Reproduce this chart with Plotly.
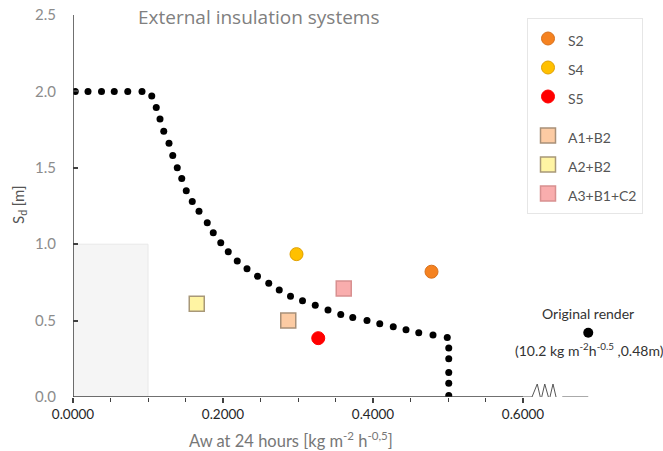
import plotly.graph_objects as go

# ---- data ----
curve_x = [0.003, 0.020, 0.038, 0.055, 0.073, 0.092, 0.105, 0.111, 0.116, 0.121,
           0.128, 0.133, 0.139, 0.145, 0.151, 0.159, 0.168, 0.179, 0.187, 0.197,
           0.207, 0.219, 0.232, 0.246, 0.261, 0.275, 0.290, 0.306, 0.323, 0.340,
           0.357, 0.373, 0.392, 0.409, 0.427, 0.444, 0.461, 0.480, 0.499, 0.501,
           0.501, 0.501, 0.501, 0.501]
curve_y = [2.00, 2.00, 2.00, 2.00, 2.00, 2.00, 1.97, 1.895, 1.82, 1.74,
           1.66, 1.58, 1.50, 1.43, 1.35, 1.28, 1.215, 1.14, 1.075, 1.01,
           0.95, 0.89, 0.84, 0.79, 0.745, 0.70, 0.66, 0.63, 0.60, 0.57,
           0.54, 0.52, 0.50, 0.48, 0.46, 0.44, 0.42, 0.405, 0.39, 0.32,
           0.25, 0.16, 0.09, 0.01]

circle_names = ["S2", "S4", "S5"]
circle_x = [0.478, 0.298, 0.327]
circle_y = [0.82, 0.935, 0.385]

square_names = ["A1+B2", "A2+B2", "A3+B1+C2"]
square_x = [0.287, 0.165, 0.361]
square_y = [0.50, 0.61, 0.71]

orig_x = [0.687]
orig_y = [0.42]

x_ticks = [0.0, 0.2, 0.4, 0.6]
x_minor = [0.05, 0.1, 0.15, 0.25, 0.3, 0.35, 0.45, 0.5, 0.55]
y_ticks = [0.0, 0.5, 1.0, 1.5, 2.0, 2.5]

# ---- styles ----
circle_fill = ["#F58220", "#FFC000", "#FF0000"]
circle_line = ["#D8701A", "#E0A000", "#FF0000"]
square_fill = ["#FCCBA3", "#FFF4A3", "#F9ADAD"]
square_line = ["#A89078", "#A89878", "#D89090"]

L, T, PW, PH = 73, 15, 585, 382

fig = go.Figure()

fig.add_trace(go.Scatter(x=curve_x, y=curve_y, mode="markers",
                         marker=dict(color="black", size=7),
                         showlegend=False, hoverinfo="skip"))

for n, x, y, f, l in zip(circle_names, circle_x, circle_y, circle_fill, circle_line):
    fig.add_trace(go.Scatter(x=[x], y=[y], mode="markers",
                             name=f"<span style='font-size:14px'>{n}</span>",
                             legendgroup="circles",
                             marker=dict(symbol="circle", size=13, color=f,
                                         line=dict(color=l, width=1))))

for n, x, y, f, l in zip(square_names, square_x, square_y, square_fill, square_line):
    fig.add_trace(go.Scatter(x=[x], y=[y], mode="markers",
                             name=f"<span style='font-size:14px'>{n}</span>",
                             legendgroup="squares",
                             marker=dict(symbol="square", size=15, color=f,
                                         line=dict(color=l, width=1.5))))

fig.add_trace(go.Scatter(x=orig_x, y=orig_y, mode="markers",
                         marker=dict(color="black", size=10),
                         showlegend=False, hoverinfo="skip"))

shapes = [
    dict(type="rect", xref="x", yref="y", x0=0, x1=0.1, y0=0, y1=1.0,
         fillcolor="#F5F5F5", line=dict(color="#E8E8E8", width=1), layer="below"),
    dict(type="line", xref="x", yref="y", x0=0, x1=0.6, y0=0, y1=0,
         line=dict(color="#404040", width=1.5)),
    dict(type="line", xref="x", yref="y", x0=0, x1=0, y0=0, y1=2.5,
         line=dict(color="#404040", width=1.5)),
    dict(type="path", xref="x", yref="y",
         path="M 0.6 0 L 0.612 0 L 0.619 0.085 L 0.624 -0.02 L 0.629 0.085 "
              "L 0.635 -0.02 L 0.640 0.085 L 0.645 -0.02 L 0.653 0 L 0.687 0",
         line=dict(color="#555555", width=1)),
]

annotations = [
    dict(text="External insulation systems", xref="paper", yref="paper",
         x=(258 - 73) / PW, y=(397 - 17) / PH, xanchor="center", yanchor="middle",
         showarrow=False, font=dict(family="Open Sans", size=19, color="#808080")),
    dict(text="S<sub>d</sub> [m]", xref="paper", yref="paper",
         x=-(73 - 19) / PW, y=(397 - 205) / PH, textangle=-90,
         xanchor="center", yanchor="middle", showarrow=False,
         font=dict(family="Lato", size=15, color="#555555")),
    dict(text="Aw at 24 hours [kg m<sup>-2</sup> h<sup>-0,5</sup>]", xref="paper", yref="paper",
         x=(291 - 73) / PW, y=-(440 - 397) / PH, xanchor="center", yanchor="middle",
         showarrow=False, font=dict(family="Lato", size=16.5, color="#777777")),
    dict(text="Original render", xref="x", yref="y", x=orig_x[0], y=orig_y[0],
         yshift=19, showarrow=False, font=dict(family="Lato", size=14, color="#333333")),
    dict(text="(10.2 kg m<sup>-2</sup>h<sup>-0.5</sup> ,0.48m)", xref="x", yref="y",
         x=orig_x[0], y=orig_y[0], xshift=1, yshift=-17, showarrow=False,
         font=dict(family="Lato", size=14, color="#333333")),
]

fig.update_layout(
    width=663, height=451,
    margin=dict(l=L, r=663 - L - PW, t=T, b=451 - T - PH, autoexpand=False),
    plot_bgcolor="white", paper_bgcolor="white",
    font=dict(family="Lato"),
    shapes=shapes, annotations=annotations,
    legend=dict(x=(527 - 73) / PW, y=(397 - 18) / PH, xanchor="left", yanchor="top",
                bordercolor="#E6E6E6", borderwidth=1, bgcolor="white",
                font=dict(family="Lato", size=20, color="#555555"),
                traceorder="grouped", tracegroupgap=10, entrywidth=80),
    xaxis=dict(range=[0, 0.78], showgrid=False, zeroline=False, showline=False,
               automargin=False, ticklabeloverflow="allow",
               tickmode="array", tickvals=x_ticks, tickformat=".4f",
               ticks="outside", ticklen=5, tickcolor="#404040", tickwidth=1.5,
               tickfont=dict(family="Lato", size=13.5, color="#262626"),
               minor=dict(tickmode="array", tickvals=x_minor, ticks="outside",
                          ticklen=4, tickcolor="#404040", tickwidth=1)),
    yaxis=dict(range=[0, 2.5], showgrid=False, zeroline=False, showline=False,
               automargin=False, ticklabeloverflow="allow",
               tickmode="array", tickvals=y_ticks, tickformat=".1f",
               ticks="inside", ticklen=5, tickcolor="#404040", tickwidth=1.5,
               ticklabelstandoff=16,
               tickfont=dict(family="Lato", size=15, color="#8C8C8C")),
)

fig.write_html("out.html", config={"displayModeBar": False},
               post_script="document.body.style.margin='0';")
